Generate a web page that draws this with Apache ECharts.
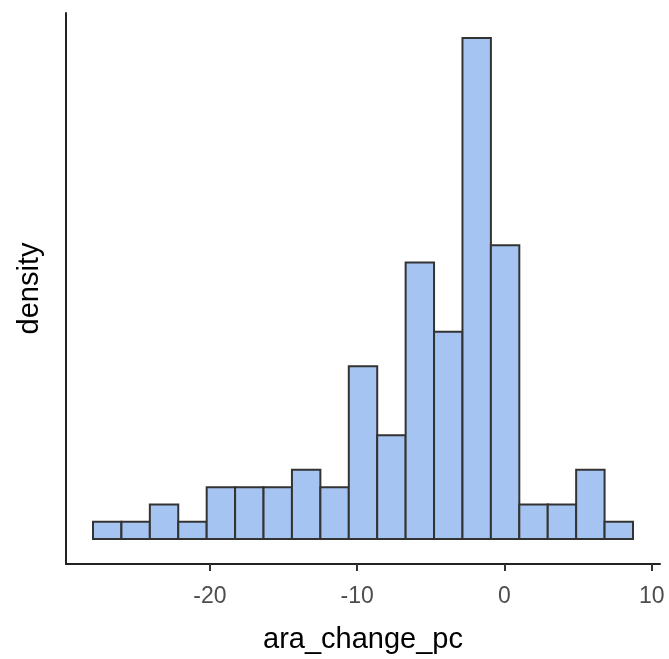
<!DOCTYPE html>
<html>
<head>
<meta charset="utf-8">
<script src="https://cdn.jsdelivr.net/npm/echarts@6/dist/echarts.min.js"></script>
<style>
  html, body { margin: 0; padding: 0; background: #fff; }
  #chart { width: 669px; height: 659px; }
</style>
</head>
<body>
<div id="chart"></div>
<script>
// histogram of ara_change_pc, counts per bin
var binStart = -27.94;
var binWidth = 1.93;
var counts = [1, 1, 2, 1, 3, 3, 3, 4, 3, 10, 6, 16, 12, 29, 17, 2, 2, 4, 1];
var xTicks = [-20, -10, 0, 10];

var total = 0;
for (var i = 0; i < counts.length; ++i) total += counts[i];

var bars = [];
var maxDensity = 0;
for (var i = 0; i < counts.length; ++i) {
  var d = counts[i] / (total * binWidth);
  if (d > maxDensity) maxDensity = d;
  bars.push([binStart + i * binWidth, binStart + (i + 1) * binWidth, d]);
}

// ggplot style 5% expansion
var xLo = binStart, xHi = binStart + counts.length * binWidth;
var xPad = (xHi - xLo) * 0.05;
var yPad = maxDensity * 0.05;

var myChart = echarts.init(document.getElementById('chart'));
var font = 'Liberation Sans, Arial, Helvetica, sans-serif';

var option = {
  animation: false,
  grid: { left: 66, right: 9, top: 13, bottom: 95, containLabel: false, outerBoundsMode: 'none' },
  xAxis: {
    type: 'value',
    min: xLo - xPad,
    max: xHi + xPad,
    name: 'ara_change_pc',
    nameLocation: 'middle',
    nameGap: 61,
    nameTextStyle: { fontFamily: font, fontSize: 29, color: '#000' },
    axisLine: { onZero: false, lineStyle: { color: '#222', width: 2 } },
    axisTick: { customValues: xTicks, length: 7, lineStyle: { color: '#333', width: 2 } },
    axisLabel: {
      customValues: xTicks,
      margin: 21,
      fontFamily: font,
      fontSize: 23,
      color: '#4d4d4d'
    },
    splitLine: { show: false }
  },
  yAxis: {
    type: 'value',
    min: -yPad,
    max: maxDensity + yPad,
    name: 'density',
    nameLocation: 'middle',
    nameRotate: 90,
    nameGap: 22,
    nameTextStyle: { fontFamily: font, fontSize: 29, color: '#000' },
    axisLine: { show: true, onZero: false, lineStyle: { color: '#222', width: 2 } },
    axisTick: { show: false },
    axisLabel: { show: false },
    splitLine: { show: false }
  },
  series: [
    {
      type: 'custom',
      data: bars,
      encode: { x: [0, 1], y: 2 },
      renderItem: function(params, api) {
        var p0 = api.coord([api.value(0), api.value(2)]);
        var p1 = api.coord([api.value(1), 0]);
        return {
          type: 'rect',
          shape: { x: p0[0], y: p0[1], width: p1[0] - p0[0], height: p1[1] - p0[1] },
          style: { fill: '#a6c4f1', stroke: '#333333', lineWidth: 2 }
        };
      }
    }
  ]
};

myChart.setOption(option);
</script>
</body>
</html>
